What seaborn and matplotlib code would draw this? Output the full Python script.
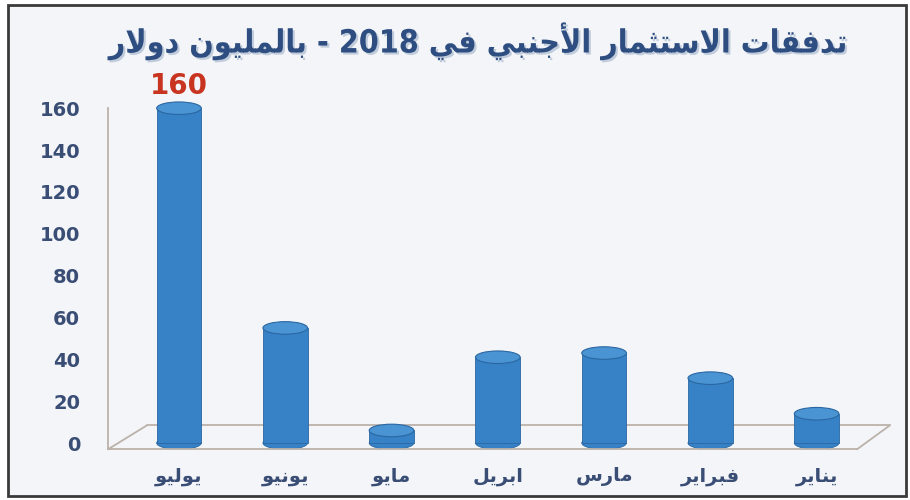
import matplotlib
matplotlib.use("Agg")
import matplotlib.pyplot as plt
from matplotlib.patches import Ellipse, Rectangle
from matplotlib.lines import Line2D
import matplotlib.patheffects as pe
import seaborn as sns
import pandas as pd

# ---------------- data ----------------
title_text = "تدفقات الاستثمار الأجنبي في 2018 - بالمليون دولار"
months = ["يوليو", "يونيو", "مايو", "ابريل", "مارس", "فبراير", "يناير"]
values = [160, 55, 6, 41, 43, 31, 14]
highlight_month = "يوليو"
yticks = [0, 20, 40, 60, 80, 100, 120, 140, 160]

# ------------- minimal Arabic shaping (matplotlib has no complex text layout) -------------
FORMS = {
    '\u0627': (0xFE8D, 0xFE8E), '\u0623': (0xFE83, 0xFE84),
    '\u0628': (0xFE8F, 0xFE90, 0xFE91, 0xFE92), '\u062A': (0xFE95, 0xFE96, 0xFE97, 0xFE98),
    '\u062B': (0xFE99, 0xFE9A, 0xFE9B, 0xFE9C), '\u062C': (0xFE9D, 0xFE9E, 0xFE9F, 0xFEA0),
    '\u062F': (0xFEA9, 0xFEAA), '\u0631': (0xFEAD, 0xFEAE),
    '\u0633': (0xFEB1, 0xFEB2, 0xFEB3, 0xFEB4), '\u0641': (0xFED1, 0xFED2, 0xFED3, 0xFED4),
    '\u0642': (0xFED5, 0xFED6, 0xFED7, 0xFED8), '\u0644': (0xFEDD, 0xFEDE, 0xFEDF, 0xFEE0),
    '\u0645': (0xFEE1, 0xFEE2, 0xFEE3, 0xFEE4), '\u0646': (0xFEE5, 0xFEE6, 0xFEE7, 0xFEE8),
    '\u0648': (0xFEED, 0xFEEE), '\u064A': (0xFEF1, 0xFEF2, 0xFEF3, 0xFEF4),
    '\u0649': (0xFEEF, 0xFEF0),
}
LAMALEF = {'\u0627': (0xFEFB, 0xFEFC), '\u0623': (0xFEF7, 0xFEF8)}


def shape_word(word):
    units, i = [], 0
    while i < len(word):
        c = word[i]
        if c == '\u0644' and i + 1 < len(word) and word[i + 1] in LAMALEF:
            units.append(('lig', word[i + 1]))
            i += 2
        else:
            units.append(('ch', c))
            i += 1

    def is_ar(u):
        return u[0] == 'lig' or u[1] in FORMS

    def joins_next(u):
        return u[0] == 'ch' and u[1] in FORMS and len(FORMS[u[1]]) == 4

    out = []
    for k, u in enumerate(units):
        prev_ok = k > 0 and joins_next(units[k - 1]) and is_ar(u)
        next_ok = k < len(units) - 1 and joins_next(u) and is_ar(units[k + 1])
        if u[0] == 'lig':
            out.append(chr(LAMALEF[u[1]][1 if prev_ok else 0]))
        elif u[1] in FORMS:
            f = FORMS[u[1]]
            if len(f) == 4:
                idx = {(False, False): 0, (True, False): 1, (False, True): 2, (True, True): 3}[(prev_ok, next_ok)]
            else:
                idx = 1 if prev_ok else 0
            out.append(chr(f[idx]))
        else:
            out.append(u[1])
    return ''.join(out)


def visual(text):
    res = []
    for w in reversed(text.split(' ')):
        s = shape_word(w)
        if any(ch in FORMS for ch in w):
            s = s[::-1]
        res.append(s)
    return ' '.join(res)


# ---------------- style ----------------
sns.set_theme(style="white")
plt.rcParams['font.family'] = ['DejaVu Sans']

BG = "#F3F5F8"
BAR = "#3782C6"
BAR_TOP = "#4A94D3"
BAR_EDGE = "#2A67A2"
TXT = "#3A4E75"
FLOOR = "#BBB2AA"

fig = plt.figure(figsize=(9.1, 5.0), dpi=100)
fig.patch.set_facecolor("white")
fig.add_artist(Rectangle((8 / 910, 4 / 500), 898 / 910, 491 / 500, transform=fig.transFigure,
                         facecolor=BG, edgecolor="#3a3a3a", lw=2, zorder=0))

ax = fig.add_axes([108 / 910, 50.7 / 500, 749 / 910, 362 / 500])
ax.patch.set_alpha(0)

df = pd.DataFrame({"month": months, "value": values})
sns.barplot(data=df, x="month", y="value", order=months, color=BAR, saturation=1,
            width=0.42, ax=ax, zorder=3)

ax.set_xlim(-0.668, 6.38)
ax.set_ylim(-3, 170)

# cylinder caps derived from the seaborn bars
cap_h = 6.0
for p in list(ax.patches):
    x, w, h = p.get_x(), p.get_width(), p.get_height()
    p.set_edgecolor(BAR_EDGE)
    p.set_linewidth(0.6)
    ax.add_patch(Ellipse((x + w / 2, 0), w, cap_h, facecolor=BAR, edgecolor=BAR_EDGE, lw=0.6, zorder=2))
    ax.add_patch(Ellipse((x + w / 2, h), w, cap_h, facecolor=BAR_TOP, edgecolor=BAR_EDGE, lw=0.8, zorder=4))

# highlight label
hi = months.index(highlight_month)
ax.annotate(f"{values[hi]}", xy=(hi, values[hi]), xytext=(0, 6), textcoords="offset points",
            ha="center", va="bottom", fontsize=20, fontweight="bold", color="#C8341F",
            annotation_clip=False)

# axes / ticks
ax.set_yticks(yticks)
ax.set_yticklabels([str(t) for t in yticks], fontsize=14, fontweight="bold", color=TXT)
ax.set_xticks(range(len(months)))
ax.set_xticklabels([visual(m) for m in months], fontsize=14, fontweight="bold", color=TXT)
ax.tick_params(axis="y", length=0, pad=20)
ax.tick_params(axis="x", length=0, pad=13)
ax.set_xlabel("")
ax.set_ylabel("")

for s in ["top", "right"]:
    ax.spines[s].set_visible(False)
for s in ["left", "bottom"]:
    ax.spines[s].set_color(FLOOR)
    ax.spines[s].set_linewidth(1.3)
ax.spines["left"].set_bounds(-3, 160)

# 3D-like floor outline
dy = 24 / 362
for xs, ys in [([0, 39 / 749], [0, dy]), ([39 / 749, 1.044], [dy, dy]), ([1.0, 1.044], [0, dy])]:
    ax.add_line(Line2D(xs, ys, transform=ax.transAxes, color=FLOOR, lw=1.3, clip_on=False, zorder=1))

# title
fig.text(479 / 910, 1 - 41 / 500, visual(title_text), ha="center", va="center",
         fontsize=23, fontweight="bold", fontstretch="condensed", color="#2E4D80",
         path_effects=[pe.withSimplePatchShadow(offset=(1.5, -1.5), shadow_rgbFace="#9fb0c8", alpha=0.6)])

fig.savefig("out.png", dpi=100, facecolor=fig.get_facecolor())
